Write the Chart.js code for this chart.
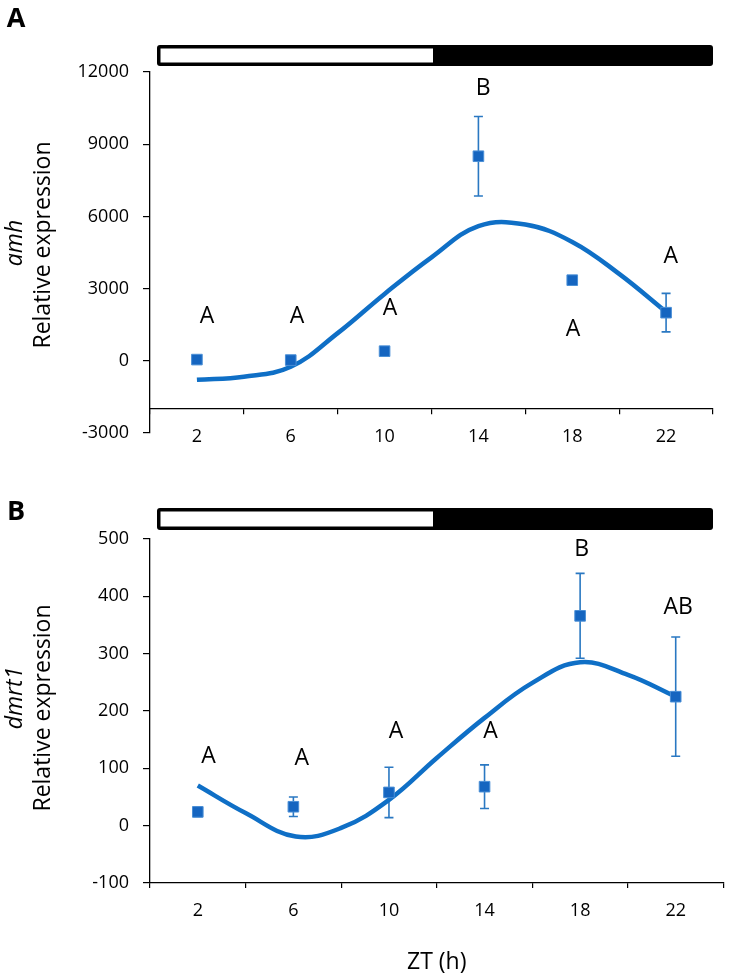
<!DOCTYPE html>
<html><head><meta charset="utf-8">
<script src="https://cdn.jsdelivr.net/npm/chart.js@4/dist/chart.umd.min.js"></script>
<style>
html,body{margin:0;padding:0;background:#fff;width:732px;height:977px;overflow:hidden}
#a{position:absolute;left:0;top:0}
#b{position:absolute;left:0;top:465px}
</style></head><body>
<canvas id="a" width="732" height="465"></canvas>
<canvas id="b" width="732" height="512"></canvas>
<script>
// ---------- data ----------
const zt = [2, 6, 10, 14, 18, 22];
const tickLabels = ['2', '6', '10', '14', '18', '22'];
const xAxisTitle = 'ZT (h)';
const yAxisTitle = 'Relative expression';

// Panel A: amh
const amhMean = [50, 30, 400, 8500, 3350, 2000];
const amhErr  = [60, 60, 80, 1650, 120, 800];
const amhFitX = [2, 4, 6, 8, 10, 12, 14, 16, 18, 20, 22];
const amhFitY = [-790, -660, -250, 1150, 2780, 4300, 5600, 5660, 4940, 3610, 2030];
const amhLetters = ['A', 'A', 'A', 'B', 'A', 'A'];
const amhLetterX = [2.43, 6.27, 10.23, 14.2, 18.03, 22.2];
const amhLetterY = [1830, 1830, 2160, 11300, 1290, 4320];
const amhTicksY = [-3000, 0, 3000, 6000, 9000, 12000];

// Panel B: dmrt1
const dmrtMean = [24, 33, 58, 68, 366, 225];
const dmrtErr  = [8, 17, 44, 38, 74, 104];
const dmrtFitX = [2, 4, 6.1, 8, 10, 12, 14, 16, 18, 20, 22];
const dmrtFitY = [70, 22, -19, -4, 45, 118, 188, 249, 285, 263, 225];
const dmrtLetters = ['A', 'A', 'A', 'A', 'B', 'AB'];
const dmrtLetterX = [2.45, 6.35, 10.3, 14.25, 18.06, 22.1];
const dmrtLetterY = [120, 118, 164, 164, 481, 380];
const dmrtTicksY = [-100, 0, 100, 200, 300, 400, 500];

// ---------- styling ----------
Chart.defaults.font.family = "'Open Sans', 'DejaVu Sans', sans-serif";
Chart.defaults.color = '#000';
const BLUE_LINE = '#0f6fc6';
const BLUE_PT = '#1565c0';
const BLUE_ERR = '#2a78c2';

const errorBars = {
  id: 'errorBars',
  beforeDatasetsDraw(chart) {
    const ctx = chart.ctx;
    const xs = chart.scales.x, ys = chart.scales.y;
    chart.data.datasets.forEach(ds => {
      if (!ds.errors) return;
      ctx.save();
      ctx.strokeStyle = BLUE_ERR;
      ctx.lineWidth = 1.6;
      ds.data.forEach((p, i) => {
        const e = ds.errors[i];
        const px = xs.getPixelForValue(p.x);
        const y1 = ys.getPixelForValue(p.y + e);
        const y2 = ys.getPixelForValue(p.y - e);
        ctx.beginPath();
        ctx.moveTo(px, y1); ctx.lineTo(px, y2);
        ctx.moveTo(px - 4.5, y1); ctx.lineTo(px + 4.5, y1);
        ctx.moveTo(px - 4.5, y2); ctx.lineTo(px + 4.5, y2);
        ctx.stroke();
      });
      ctx.restore();
    });
  }
};

const deco = {
  id: 'deco',
  afterDraw(chart, args, o) {
    const ctx = chart.ctx;
    const xs = chart.scales.x, ys = chart.scales.y;
    ctx.save();
    // light/dark bar
    ctx.fillStyle = '#000';
    ctx.beginPath();
    ctx.roundRect(o.barLeft, o.barTop, o.barRight - o.barLeft, o.barBottom - o.barTop, 3);
    ctx.fill();
    ctx.fillStyle = '#fff';
    ctx.fillRect(o.barLeft + 3.5, o.barTop + 3.5, o.barSplit - o.barLeft - 3.5, o.barBottom - o.barTop - 7);
    // panel letter
    ctx.fillStyle = '#000';
    ctx.textAlign = 'center';
    ctx.textBaseline = 'middle';
    ctx.font = "bold 27px 'Open Sans', sans-serif";
    ctx.fillText(o.letter, o.letterX, o.letterY);
    // y titles
    ctx.save();
    ctx.translate(o.titleX, o.titleY);
    ctx.rotate(-Math.PI / 2);
    ctx.font = "23px 'Open Sans', sans-serif";
    ctx.fillText(yAxisTitle, 0, 0);
    ctx.restore();
    ctx.save();
    ctx.translate(o.geneX, o.geneY);
    ctx.rotate(-Math.PI / 2);
    ctx.font = "italic 23px 'Open Sans', sans-serif";
    ctx.fillText(o.gene, 0, 0);
    ctx.restore();
    // significance letters
    ctx.font = "23px 'Open Sans', sans-serif";
    o.sig.forEach((t, i) => {
      ctx.fillText(t, xs.getPixelForValue(o.sigX[i]), ys.getPixelForValue(o.sigY[i]));
    });
    ctx.restore();
  }
};

function makeChart(el, cfg) {
  const xScale = {
    type: 'linear', min: 0, max: 24,
    afterBuildTicks(s) { s.ticks = []; for (let v = 0; v <= 24; v += 2) s.ticks.push({value: v}); },
    afterFit(s) { s.paddingLeft = 0; s.paddingRight = 0; if (cfg.xHeight) s.height = cfg.xHeight; },
    grid: {
      drawOnChartArea: false, tickLength: 5, lineWidth: 1.2,
      tickColor: (c) => (c.tick && c.tick.value % 4 === 0) ? '#000' : 'rgba(0,0,0,0)'
    },
    border: {color: '#000', width: 1.3},
    ticks: {
      autoSkip: false, maxRotation: 0, padding: 12,
      font: {size: 18},
      callback: (v) => { const i = zt.indexOf(v); return i >= 0 ? tickLabels[i] : ''; }
    },
    title: cfg.xTitle ? {display: true, text: xAxisTitle, font: {size: 23}, padding: {top: 0, bottom: 1}} : {display: false}
  };
  if (cfg.xPos !== undefined) xScale.position = {y: cfg.xPos};
  return new Chart(el, {
    data: {
      datasets: [
        {
          type: 'line', order: 2,
          data: cfg.fitX.map((x, i) => ({x, y: cfg.fitY[i]})),
          borderColor: BLUE_LINE, borderWidth: 4.5, pointRadius: 0,
          tension: 0.4, fill: false
        },
        {
          type: 'scatter', order: 1,
          data: zt.map((x, i) => ({x, y: cfg.mean[i]})),
          errors: cfg.err,
          pointStyle: 'rect', pointRadius: 7.5,
          backgroundColor: BLUE_PT, borderColor: '#4a8fd6', borderWidth: 1
        }
      ]
    },
    options: {
      responsive: false, animation: false, devicePixelRatio: 1,
      layout: {padding: cfg.padding},
      plugins: {
        legend: {display: false}, tooltip: {enabled: false},
        deco: cfg.deco
      },
      scales: {
        x: xScale,
        y: {
          type: 'linear', min: cfg.yTicks[0], max: cfg.yTicks[cfg.yTicks.length - 1],
          afterBuildTicks(s) { s.ticks = cfg.yTicks.map(v => ({value: v})); },
          afterFit(s) { s.width = 150; s.paddingTop = 0; s.paddingBottom = 0; },
          grid: {drawOnChartArea: false, tickLength: 7, color: '#000', lineWidth: 1.2},
          border: {color: '#000', width: 1.3},
          ticks: {padding: 14, font: {size: 18}, callback: (v) => String(v)}
        }
      }
    },
    plugins: [errorBars, deco]
  });
}

makeChart(document.getElementById('a'), {
  mean: amhMean, err: amhErr, fitX: amhFitX, fitY: amhFitY, yTicks: amhTicksY,
  xPos: -2000,
  padding: {top: 72, right: 19, bottom: 32, left: 0},
  deco: {
    barLeft: 157, barRight: 713, barSplit: 433, barTop: 45, barBottom: 66,
    letter: 'A', letterX: 16, letterY: 19,
    gene: 'amh', geneX: 15, geneY: 243, titleX: 43, titleY: 245,
    sig: amhLetters, sigX: amhLetterX, sigY: amhLetterY
  }
});

makeChart(document.getElementById('b'), {
  mean: dmrtMean, err: dmrtErr, fitX: dmrtFitX, fitY: dmrtFitY, yTicks: dmrtTicksY,
  xTitle: true, xHeight: 94,
  padding: {top: 74, right: 4, bottom: 0, left: 0},
  deco: {
    barLeft: 157, barRight: 713, barSplit: 433, barTop: 43, barBottom: 65,
    letter: 'B', letterX: 16, letterY: 47,
    gene: 'dmrt1', geneX: 15, geneY: 233, titleX: 43, titleY: 243,
    sig: dmrtLetters, sigX: dmrtLetterX, sigY: dmrtLetterY
  }
});
</script>
</body></html>
